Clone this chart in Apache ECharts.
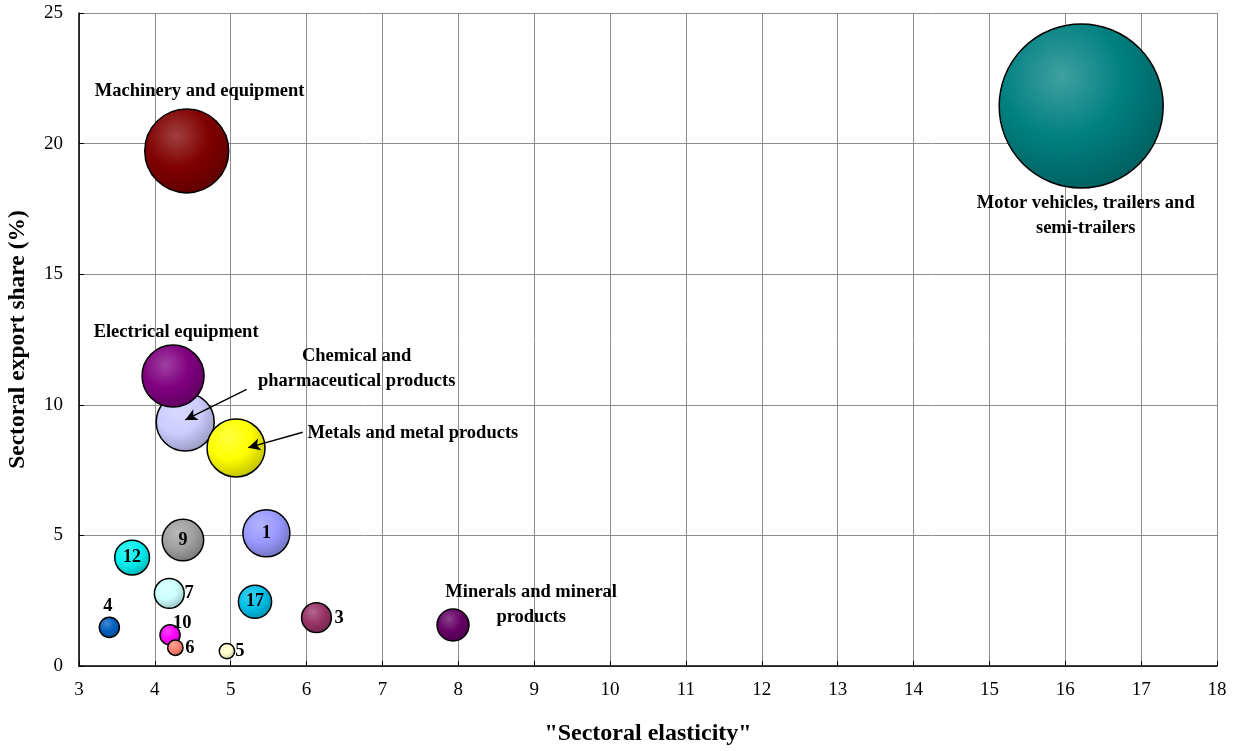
<!DOCTYPE html>
<html>
<head>
<meta charset="utf-8">
<script src="https://cdn.jsdelivr.net/npm/echarts@6/dist/echarts.min.js"></script>
<style>
html,body{margin:0;padding:0;background:#fff;}
#chart{width:1239px;height:751px;}
</style>
</head>
<body>
<div id="chart"></div>
<script>
// ---- data ----
const sectors = ['Motor vehicles', 'Machinery', 'Chemical', 'Electrical', 'Metals', '1', '9', '12', '7', '17', '4', '10', '6', '5', '3', 'Minerals'];
const elasticity = [16.21, 4.42, 4.40, 4.24, 5.07, 5.47, 4.37, 3.70, 4.19, 5.32, 3.40, 4.20, 4.27, 4.95, 6.13, 7.93];
const exportShare = [21.44, 19.72, 9.34, 11.10, 8.35, 5.08, 4.82, 4.15, 2.78, 2.46, 1.48, 1.19, 0.70, 0.57, 1.85, 1.57];
const bubbleWeight = [100, 26.2, 12.5, 14.3, 12.5, 8.2, 6.4, 4.5, 3.3, 4.1, 1.5, 1.5, 0.88, 0.88, 3.3, 3.8];
const insideLabels = ['', '', '', '', '', '1', '9', '12', '', '17', '', '', '', '', '', ''];

const annotationTexts = ['Machinery and equipment', 'Electrical equipment', 'Chemical and\npharmaceutical products', 'Metals and metal products', 'Motor vehicles, trailers and\nsemi-trailers', 'Minerals and mineral\nproducts', '4', '10', '6', '5', '7', '3'];
const annotationX = [4.59, 4.28, 6.66, 7.40, 16.27, 8.96, 3.38, 4.36, 4.46, 5.12, 4.45, 6.43];
const annotationY = [22.00, 12.76, 11.38, 8.90, 17.25, 2.35, 2.28, 1.63, 0.67, 0.55, 2.77, 1.82];

const arrowFrom = [[5.21, 10.59], [5.95, 8.95]];
const arrowTo = [[4.40, 9.42], [5.23, 8.36]];

const xTicks = [3, 18, 1];
const yTicks = [0, 25, 5];

// ---- styles ----
const palette = ['#008080', '#800000', '#ccccff', '#800080', '#ffff00', '#9999ff', '#a0a0a0', '#00f0f0', '#ccffff', '#00c0e8', '#0060c0', '#ff00ff', '#ff8070', '#ffffcc', '#993366', '#660066'];

function mix(hex, target, t) {
  const h = hex.replace('#', '');
  const r = parseInt(h.substr(0, 2), 16), g = parseInt(h.substr(2, 2), 16), b = parseInt(h.substr(4, 2), 16);
  const f = c => Math.round(c + (target - c) * t);
  return 'rgb(' + f(r) + ',' + f(g) + ',' + f(b) + ')';
}
function sphere(hex) {
  return {
    type: 'radial', x: 0.38, y: 0.32, r: 0.75,
    colorStops: [
      { offset: 0, color: mix(hex, 255, 0.25) },
      { offset: 0.5, color: hex },
      { offset: 1, color: mix(hex, 0, 0.28) }
    ]
  };
}

const font = 'Liberation Serif';
const maxDiameter = 164;
const bubbleData = sectors.map((s, i) => ({
  name: s,
  value: [elasticity[i], exportShare[i], bubbleWeight[i]],
  symbolSize: maxDiameter * Math.sqrt(bubbleWeight[i] / 100),
  itemStyle: { color: sphere(palette[i]), borderColor: '#000', borderWidth: 1.5, opacity: 1 },
  label: {
    show: insideLabels[i] !== '',
    formatter: insideLabels[i],
    position: 'inside',
    color: '#000',
    fontFamily: font,
    fontWeight: 'bold',
    fontSize: 18
  }
}));

const annData = annotationTexts.map((t, i) => ({
  value: [annotationX[i], annotationY[i]],
  label: { formatter: t }
}));

const chart = echarts.init(document.getElementById('chart'));
chart.setOption({
  animation: false,
  backgroundColor: '#fff',
  grid: { left: 79, right: 22, top: 13, bottom: 85, containLabel: false, outerBoundsMode: 'none' },
  xAxis: {
    type: 'value', min: xTicks[0], max: xTicks[1], interval: xTicks[2],
    name: '"Sectoral elasticity"', nameLocation: 'middle', nameGap: 56,
    nameTextStyle: { fontFamily: font, fontWeight: 'bold', fontSize: 24, color: '#000' },
    axisLine: { show: true, lineStyle: { color: '#000', width: 1.5 } },
    axisTick: { show: true, inside: true, length: 5, lineStyle: { color: '#000' } },
    axisLabel: { fontFamily: font, fontSize: 19, color: '#000', margin: 15 },
    splitLine: { show: true, lineStyle: { color: '#8c8c8c', width: 1 } }
  },
  yAxis: {
    type: 'value', min: yTicks[0], max: yTicks[1], interval: yTicks[2],
    name: 'Sectoral export share (%)', nameLocation: 'middle', nameGap: 49,
    nameTextStyle: { fontFamily: font, fontWeight: 'bold', fontSize: 23.5, color: '#000' },
    axisLine: { show: true, lineStyle: { color: '#000', width: 1.5 } },
    axisTick: { show: true, inside: true, length: 5, lineStyle: { color: '#000' } },
    axisLabel: { fontFamily: font, fontSize: 19, color: '#000', margin: 16 },
    splitLine: { show: true, lineStyle: { color: '#8c8c8c', width: 1 } }
  },
  series: [
    {
      type: 'scatter',
      data: bubbleData,
      itemStyle: { opacity: 1 },
      z: 3
    },
    {
      type: 'scatter',
      symbolSize: 0,
      silent: true,
      z: 5,
      itemStyle: { opacity: 1 },
      data: annData,
      label: {
        show: true,
        position: 'inside',
        align: 'center',
        verticalAlign: 'middle',
        color: '#000',
        opacity: 1,
        fontFamily: font,
        fontWeight: 'bold',
        fontSize: 18.5,
        lineHeight: 25
      },
      markLine: {
        silent: true,
        symbol: ['none', 'arrow'],
        symbolSize: [9, 12],
        label: { show: false },
        lineStyle: { color: '#000', width: 1.5, type: 'solid', opacity: 1 },
        data: arrowFrom.map((f, i) => [{ coord: f }, { coord: arrowTo[i] }])
      }
    }
  ]
});
</script>
</body>
</html>
